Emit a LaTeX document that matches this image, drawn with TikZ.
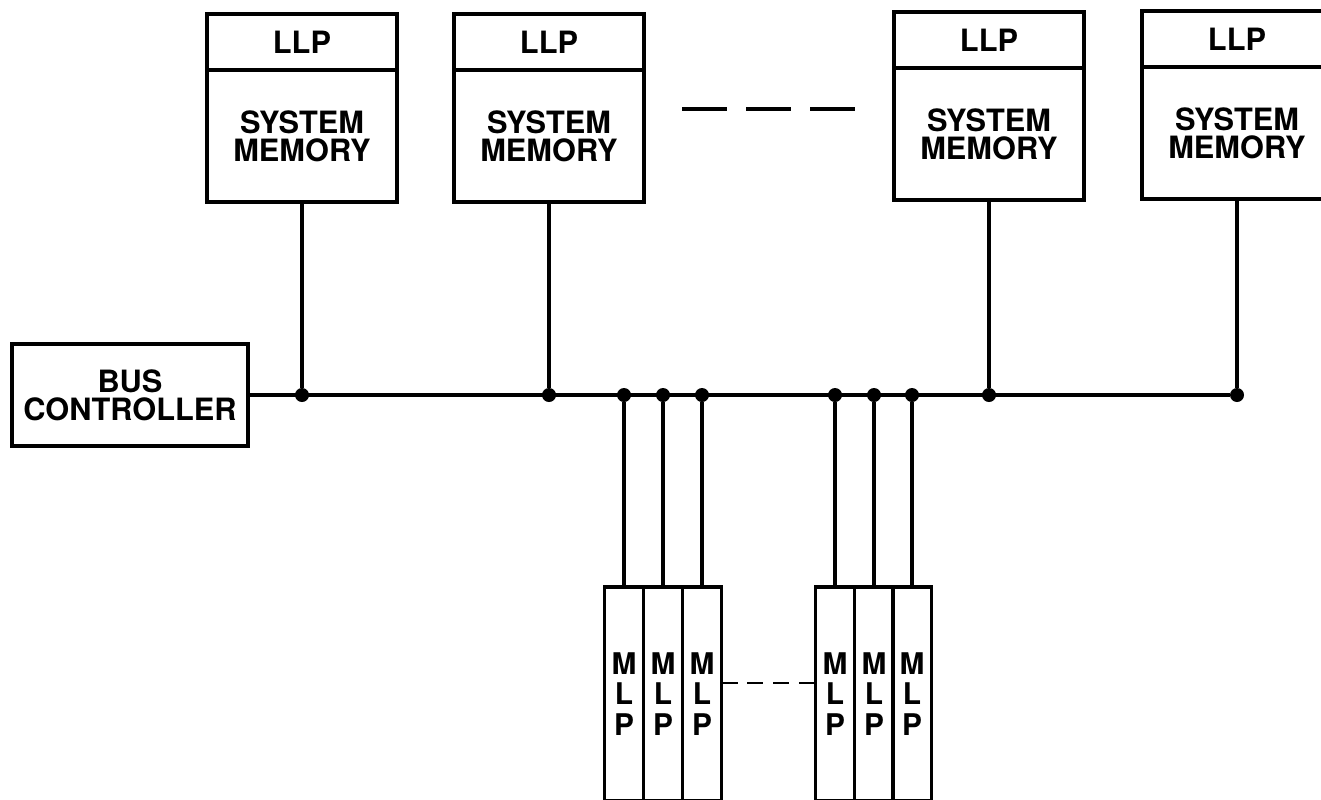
\documentclass[tikz,border=0pt]{standalone}
\usepackage{fontspec}
\setmainfont{TeX Gyre Heros}
\begin{document}
\begin{tikzpicture}[
    x=0.2mm, y=-0.2mm,
    every node/.style={font=\bfseries\fontsize{17.5}{16}\selectfont, line width=2.4pt, inner sep=0pt, outer sep=0pt},
    llpbox/.style={draw, minimum width=38mm, minimum height=11.2mm, anchor=north},
    membox/.style={draw, minimum width=38mm, minimum height=26.4mm, anchor=north, align=center},
    ctrlbox/.style={draw, minimum width=47.2mm, minimum height=20.4mm, align=center},
    mlpbox/.style={draw, line width=2pt, minimum width=7.8mm, minimum height=42.8mm, anchor=north, align=center, font=\bfseries\fontsize{17}{17.5}\selectfont},
    bus/.style={line width=2.4pt},
    tap/.style={circle, fill, minimum size=2.8mm},
    gapline/.style={line width=1.6pt, dash pattern=on 3.2mm off 1.95mm},
    more/.style={line width=2.2pt, dash pattern=on 9mm off 3.8mm},
]
\useasboundingbox (0,0) rectangle (1321,799);
\clip (0,0) rectangle (1321,799);

% memories on the bus
\foreach \n/\x/\y in {1/302/14, 2/549/14, 3/989/12, 4/1237/11} {
  \node[llpbox] (llp\n) at (\x,\y) {LLP};
  \node[membox] (mem\n) at (llp\n.south) {SYSTEM\\MEMORY};
}
\coordinate (moreL) at (682,109);
\coordinate (moreR) at (855,109);
\draw[more] (moreL) -- (moreR);

\node[ctrlbox] (bc) at (130,395) {BUS\\CONTROLLER};

% MLP columns
\node[mlpbox] (mlp1) at (624,587) {M\\L\\P};
\node[mlpbox] (mlp2) at (663,587) {M\\L\\P};
\node[mlpbox] (mlp3) at (702,587) {M\\L\\P};
\node[mlpbox] (mlp4) at (835,587) {M\\L\\P};
\node[mlpbox] (mlp5) at (874,587) {M\\L\\P};
\node[mlpbox] (mlp6) at (912,587) {M\\L\\P};
\draw[gapline] ([yshift=2.2mm]mlp3.east) -- ([yshift=2.2mm]mlp4.west);

% taps
\foreach \n in {1,...,4} {
  \node[tap] (jm\n) at (mem\n.south |- bc.east) {};
  \draw[bus] (mem\n) -- (jm\n);
}
\foreach \n in {1,...,6} {
  \node[tap] (jp\n) at (mlp\n.north |- bc.east) {};
  \draw[bus] (jp\n) -- (mlp\n);
}
\draw[bus] (bc) -- (jm4);
\end{tikzpicture}
\end{document}
